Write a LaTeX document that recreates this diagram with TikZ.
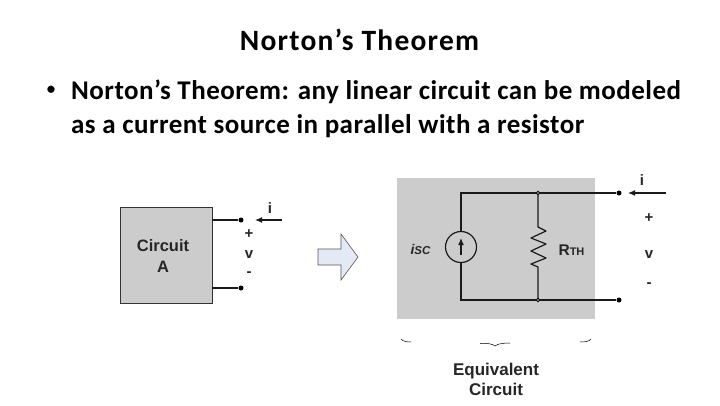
\documentclass[tikz,border=0pt]{standalone}
\usepackage{fontspec}
\setmainfont{Carlito}
\newfontfamily\arialf{Liberation Sans}
\newfontfamily\slidef[LetterSpace=1.8]{Carlito Bold}
\newfontfamily\titlef[LetterSpace=4.2]{Carlito Bold}
\usetikzlibrary{arrows.meta}
\definecolor{boxgray}{HTML}{CCCCCC}
\definecolor{wirec}{HTML}{1A1A1A}
\definecolor{arrowfill}{HTML}{E4EAF5}
\definecolor{arrowline}{HTML}{555555}
\tikzset{
  wire/.style={draw=wirec,line width=1.2pt},
  term/.style={circle,fill=black,inner sep=0pt,minimum size=5pt},
  junc/.style={circle,draw=black,fill=boxgray,line width=0.8pt,inner sep=0pt,minimum size=3.5pt},
  curarrow/.style={wire,-{Latex[length=7pt,width=6pt]}},
  lab/.style={font=\arialf\bfseries\fontsize{15}{17}\selectfont,text=black!85,inner sep=0pt,align=center},
  slide/.style={font=\slidef\fontsize{27}{32}\selectfont,text=black,inner sep=0pt,anchor=base west},
}
\begin{document}
\begin{tikzpicture}[x=1pt,y=-1pt]
\useasboundingbox (0,0) rectangle (720,405);
% text
\node[text=black,inner sep=0pt,anchor=base,font=\titlef\fontsize{29.5}{34}\selectfont] (title) at (359.5,50) {Norton’s Theorem};
\node[slide,anchor=center,font=\slidef\fontsize{17}{20}\selectfont] (bullet) at (51,90) {•};
\node[slide] (l1) at (71,99) {Norton’s Theorem: any linear circuit can be modeled};
\node[slide] (l2) at (71,133) {as a current source in parallel with a resistor};
% left circuit
\node[draw=black!80,line width=1pt,fill=boxgray,minimum width=92pt,minimum height=96pt,inner sep=0pt] (ca) at (166,255) {};
\node[lab,font=\arialf\bfseries\fontsize{16.5}{21}\selectfont] (catext) at (163,256.5) {Circuit\\A};
\coordinate (ca1) at (212,220);
\coordinate (ca2) at (212,288);
\node[term] (a1) at (241,220) {};
\node[term] (a2) at (241,288) {};
\draw[wire] (ca1) -- (a1);
\draw[wire] (ca2) -- (a2);
\coordinate (ia0) at (282,220);
\coordinate (ia1) at (255,220);
\draw[curarrow] (ia0) -- (ia1);
\node[lab] (ai) at (270,208) {i};
\node[lab] (ap) at (249,234) {+};
\node[lab] (av) at (249,255) {v};
\node[lab] (am) at (249,274) {-};
% block arrow
\draw[draw=arrowline,fill=arrowfill,line width=0.6pt]
  (318,249) -- (341,249) -- (341,234) -- (358,257) -- (341,280) -- (341,265) -- (318,265) -- cycle;
% right circuit
\node[fill=boxgray,minimum width=198pt,minimum height=141pt,inner sep=0pt] (bg) at (496,248.5) {};
\coordinate (tl) at (461,193);
\coordinate (bl) at (461,300);
\node[junc] (jt) at (538,193) {};
\node[junc] (jb) at (538,300) {};
\node[term] (bt) at (619,193) {};
\node[term] (bb) at (619,300) {};
\node[circle,draw=wirec,line width=1.2pt,fill=boxgray,minimum size=31pt,inner sep=0pt] (src) at (461,247) {};
\coordinate (sb) at (461,255);
\coordinate (st) at (461,238);
\draw[wire] (src.north) -- (tl) -- (jt) -- (bt);
\draw[wire] (src.south) -- (bl) -- (jb) -- (bb);
\draw[wire,-{Latex[length=7pt,width=6pt]}] (sb) -- (st);
\draw[wire,line join=round] (jt) -- (538,227) -- (546,231) -- (531,238) -- (546,244) -- (531,251) -- (546,258) -- (531,264) -- (538,267) -- (jb);
\coordinate (ib0) at (666,193);
\coordinate (ib1) at (628,193);
\draw[curarrow] (ib0) -- (ib1);
\node[lab] (bi) at (642,180.5) {i};
\node[lab] (bp) at (649,218) {+};
\node[lab] (bv) at (649,255) {v};
\node[lab] (bm) at (649,285) {-};
\node[lab,font=\arialf\bfseries\itshape\fontsize{14}{16}\selectfont] (isc) at (420.5,249) {\textit{i}\fontsize{11.5}{13}\selectfont\textit{SC}};
\node[lab,font=\arialf\bfseries\fontsize{15.5}{17}\selectfont] (rth) at (571.5,250) {R\fontsize{11}{13}\selectfont TH};
% brace remnants
\draw[black,line width=0.5pt] (401,339) .. controls (403,341.5) and (407,342) .. (411,342);
\draw[black,line width=0.5pt] (480,343.5) .. controls (486,343) and (492,343.5) .. (495,346) .. controls (498,343.5) and (504,343) .. (510,343);
\draw[black,line width=0.5pt] (591,339) .. controls (589,341.5) and (585,342) .. (580,342);
\node[lab,font=\arialf\bfseries\fontsize{17}{20}\selectfont] (eq) at (496,379) {Equivalent\\Circuit};
\end{tikzpicture}
\end{document}
